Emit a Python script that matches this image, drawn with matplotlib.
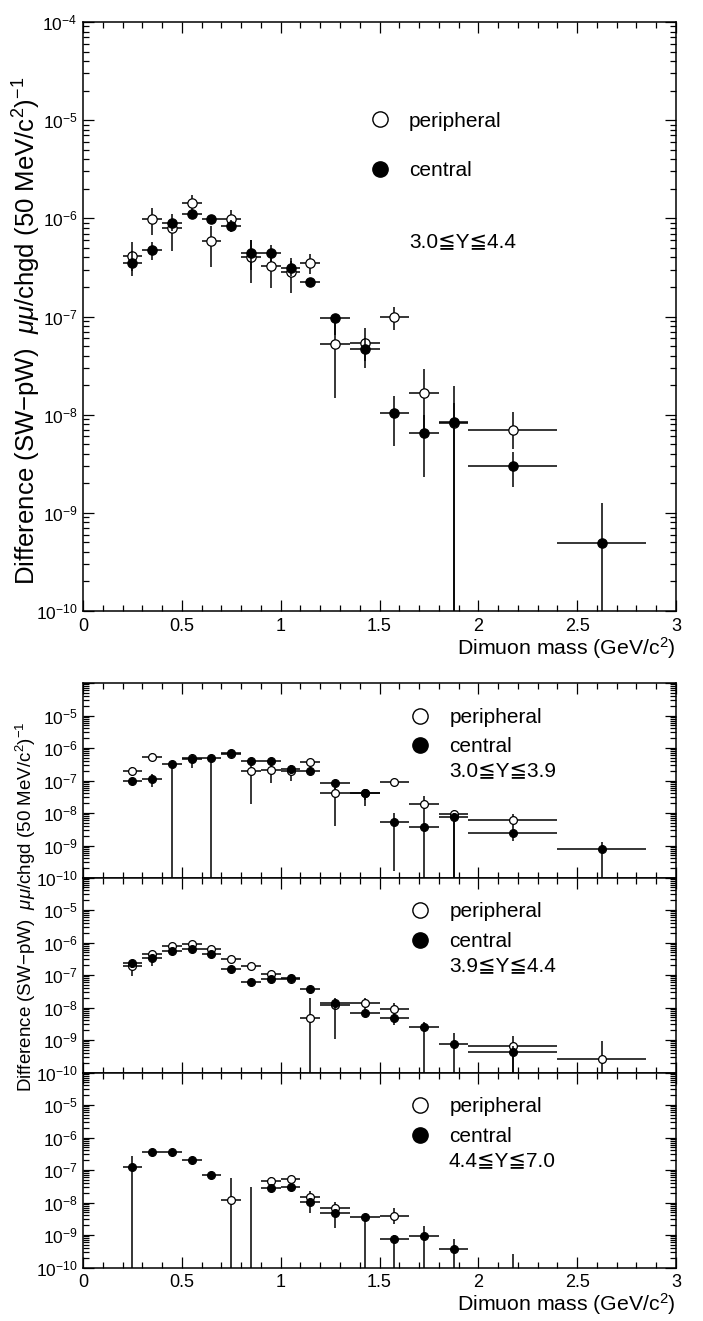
"""Dimuon mass spectra of the SW - pW difference, peripheral vs central, in rapidity windows."""

import numpy as np
import matplotlib

matplotlib.use("Agg")
import matplotlib.pyplot as plt
from matplotlib.lines import Line2D
from matplotlib.ticker import FixedLocator, FuncFormatter, LogLocator, MultipleLocator, NullFormatter

plt.rcParams["font.family"] = ["Liberation Sans", "DejaVu Sans"]
plt.rcParams["mathtext.fontset"] = "custom"
plt.rcParams["mathtext.rm"] = "Liberation Sans"
plt.rcParams["mathtext.it"] = "Liberation Sans:italic"
plt.rcParams["mathtext.default"] = "regular"

nan = np.nan
LOW = 1e-12  # lower error running off the bottom of the axis

mass_edges = [0.2, 0.3, 0.4, 0.5, 0.6, 0.7, 0.8, 0.9, 1.0, 1.1, 1.2,
              1.35, 1.5, 1.65, 1.8, 1.95, 2.4, 2.85]

# --- 3.0 <= Y <= 4.4 (top panel) ---
all_periph = [4.1e-7, 9.8e-7, 7.9e-7, 1.42e-6, 5.9e-7, 9.8e-7, 4.06e-7, 3.3e-7, 2.86e-7,
              3.53e-7, 5.3e-8, 5.4e-8, 9.9e-8, 1.65e-8, 8.3e-9, 7.0e-9, nan]
all_periph_lo = [2.9e-7, 6.8e-7, 4.7e-7, 1.15e-6, 3.2e-7, 8.0e-7, 2.2e-7, 1.94e-7, 1.72e-7,
                 2.7e-7, 1.47e-8, 3.5e-8, 7.3e-8, 6e-9, LOW, 4.5e-9, nan]
all_periph_hi = [5.7e-7, 1.26e-6, 9.5e-7, 1.73e-6, 8.3e-7, 1.22e-6, 6.0e-7, 4.4e-7, 3.9e-7,
                 4.33e-7, 9.0e-8, 7.6e-8, 1.24e-7, 2.9e-8, 1.96e-8, 1.07e-8, nan]
all_central = [3.48e-7, 4.76e-7, 9.0e-7, 1.1e-6, 9.8e-7, 8.4e-7, 4.4e-7, 4.4e-7, 3.15e-7,
               2.23e-7, 9.7e-8, 4.7e-8, 1.03e-8, 6.45e-9, 8.5e-9, 3.0e-9, 4.9e-10]
all_central_lo = [2.59e-7, 3.77e-7, 7.5e-7, 1.0e-6, 9.0e-7, 7.2e-7, 3.0e-7, 3.6e-7, 2.6e-7,
                  2.0e-7, 6.5e-8, 3.0e-8, 4.8e-9, 2.33e-9, LOW, 1.82e-9, LOW]
all_central_hi = [4.6e-7, 5.8e-7, 1.1e-6, 1.2e-6, 1.06e-6, 9.6e-7, 6.0e-7, 5.3e-7, 3.7e-7,
                  2.45e-7, 1.0e-7, 6.0e-8, 1.55e-8, 1.0e-8, 1.3e-8, 4.2e-9, 1.25e-9]

# --- 3.0 <= Y <= 3.9 ---
low_periph = [1.95e-7, 5.3e-7, nan, 5.1e-7, nan, 6.6e-7, 2.0e-7, 2.1e-7, 1.9e-7,
              3.6e-7, 4.1e-8, 4.1e-8, 9.1e-8, 1.9e-8, 9.5e-9, 6.3e-9, nan]
low_periph_lo = [1.4e-7, 4.0e-7, nan, 2.5e-7, nan, 5.0e-7, 1.9e-8, 8.5e-8, 1.0e-7,
                 2.6e-7, 3.9e-9, 2.5e-8, 7.0e-8, 6e-9, LOW, 3.5e-9, nan]
low_periph_hi = [2.6e-7, 7.0e-7, nan, 6.5e-7, nan, 8.7e-7, 3.0e-7, 3.0e-7, 2.8e-7,
                 4.5e-7, 6.0e-8, 5.5e-8, 1.1e-7, 3.3e-8, 1.2e-8, 9e-9, nan]
low_central = [9.8e-8, 1.15e-7, 3.3e-7, 4.5e-7, 5.1e-7, 6.8e-7, 3.9e-7, 3.9e-7, 2.25e-7,
               1.9e-7, 8.3e-8, 4.1e-8, 5.3e-9, 3.8e-9, 7.8e-9, 2.5e-9, 7.7e-10]
low_central_lo = [8.0e-8, 6.1e-8, LOW, 3.5e-7, LOW, 5.5e-7, 3.0e-7, 3.0e-7, 1.6e-7,
                  1.5e-7, 5.5e-8, 1.6e-8, 1.7e-10, LOW, LOW, 1.4e-9, LOW]
low_central_hi = [1.2e-7, 1.6e-7, 4.0e-7, 5.5e-7, 6.0e-7, 8.0e-7, 4.6e-7, 4.6e-7, 3.0e-7,
                  2.4e-7, 1.0e-7, 5.5e-8, 1.0e-8, 6.0e-9, 1.0e-8, 3.5e-9, 1.25e-9]

# --- 3.9 <= Y <= 4.4 ---
mid_periph = [1.95e-7, 4.3e-7, 7.8e-7, 8.8e-7, 6.2e-7, 3.0e-7, 1.96e-7, 1.1e-7, 7.3e-8,
              4.9e-9, 1.16e-8, 1.38e-8, 9.2e-9, nan, nan, 6.4e-10, 2.6e-10]
mid_periph_lo = [9.3e-8, 3.0e-7, 6.3e-7, 7.2e-7, 5.0e-7, 2.4e-7, 1.6e-7, 9e-8, 5.5e-8,
                 LOW, 1.1e-9, 9.5e-9, 6.0e-9, nan, nan, LOW, LOW]
mid_periph_hi = [2.8e-7, 5.6e-7, 9.5e-7, 1.05e-6, 7.5e-7, 3.7e-7, 2.4e-7, 1.35e-7, 9.0e-8,
                 2.0e-8, 1.5e-8, 1.9e-8, 1.35e-8, nan, nan, 1.35e-9, 9.5e-10]
mid_central = [2.3e-7, 3.3e-7, 5.5e-7, 6.2e-7, 4.5e-7, 1.5e-7, 6.3e-8, 7.3e-8, 8.3e-8,
               3.7e-8, 1.38e-8, 6.9e-9, 4.6e-9, 2.5e-9, 7.7e-10, 4.4e-10, nan]
mid_central_lo = [1.6e-7, 1.9e-7, 4.7e-7, 5.3e-7, 3.8e-7, 1.25e-7, 4.5e-8, 6.0e-8, 6.5e-8,
                  3.0e-8, 9.0e-9, 5.0e-9, 2.9e-9, LOW, LOW, LOW, nan]
mid_central_hi = [2.9e-7, 4.0e-7, 6.3e-7, 7.0e-7, 5.2e-7, 1.8e-7, 7.5e-8, 8.8e-8, 1.0e-7,
                  4.6e-8, 1.9e-8, 9.5e-9, 6.5e-9, 3.5e-9, 1.65e-9, 6.5e-10, nan]

# --- 4.4 <= Y <= 7.0 ---
high_periph = [nan, nan, nan, nan, nan, 1.17e-8, nan, 4.5e-8, 5.2e-8,
               1.5e-8, 6.6e-9, nan, 3.9e-9, nan, nan, 1e-11, nan]
high_periph_lo = [nan, nan, nan, nan, nan, LOW, nan, 3.5e-8, 4.2e-8,
                  1.15e-8, 4.5e-9, nan, 2.2e-9, nan, nan, LOW, nan]
high_periph_hi = [nan, nan, nan, nan, nan, 5.5e-8, nan, 6.0e-8, 6.5e-8,
                  2.2e-8, 1.07e-8, nan, 7.0e-9, nan, nan, 2.6e-10, nan]
high_central = [1.2e-7, 3.5e-7, 3.6e-7, 2.1e-7, 6.8e-8, nan, 1e-11, 2.7e-8, 3.0e-8,
                1.05e-8, 4.6e-9, 3.5e-9, 7.8e-10, 9.3e-10, 3.7e-10, nan, nan]
high_central_lo = [LOW, 2.7e-7, 3.1e-7, 1.75e-7, 5.8e-8, nan, LOW, 2.2e-8, 2.5e-8,
                   4.8e-9, 1.7e-9, LOW, LOW, LOW, LOW, nan, nan]
high_central_hi = [2.75e-7, 4.3e-7, 4.2e-7, 2.5e-7, 7.8e-8, nan, 2.9e-8, 3.3e-8, 3.6e-8,
                   1.4e-8, 6.0e-9, 4.0e-9, 1.0e-9, 1.9e-9, 7.5e-10, nan, nan]

W, H = 703, 1321
edges = np.array(mass_edges)
mass = 0.5 * (edges[1:] + edges[:-1])
half = 0.5 * (edges[1:] - edges[:-1])


def draw(ax, y, lo, hi, filled, ms):
    y, lo, hi = np.array(y), np.array(lo), np.array(hi)
    ax.errorbar(mass, y, xerr=half, yerr=[y - lo, hi - y], fmt="o", ms=ms,
                mfc="black" if filled else "white", mec="black", mew=0.9,
                ecolor="black", elinewidth=1.1, capsize=0, zorder=3 if filled else 2)


def style(ax, xlabels, top_label):
    ax.set_yscale("log")
    ax.set_xlim(0, 3)
    ax.set_ylim(1e-10, 1e-4)
    ax.xaxis.set_major_locator(MultipleLocator(0.5))
    ax.xaxis.set_minor_locator(MultipleLocator(0.1))
    ax.yaxis.set_major_locator(FixedLocator([10.0 ** e for e in range(-10, -3)]))
    ax.yaxis.set_minor_locator(LogLocator(base=10, subs=range(2, 10), numticks=20))
    ax.yaxis.set_minor_formatter(NullFormatter())

    def dec(v, pos):
        e = int(round(np.log10(v)))
        if e == -4 and not top_label:
            return ""
        return r"$10^{%d}$" % e

    ax.yaxis.set_major_formatter(FuncFormatter(dec))
    if xlabels:
        ax.xaxis.set_major_formatter(FuncFormatter(lambda v, p: "%g" % v))
    else:
        ax.xaxis.set_major_formatter(NullFormatter())
    ax.tick_params(which="both", direction="in", top=True, right=True, width=0.9)
    ax.tick_params(which="major", length=8)
    ax.tick_params(which="minor", length=4)
    ax.tick_params(axis="y", labelsize=12.5, pad=4)
    ax.tick_params(axis="x", labelsize=13, pad=5)
    for s in ax.spines.values():
        s.set_linewidth(1.1)


def legend(ax, x, y, spacing, ylabel_text, tx, ty):
    handles = [Line2D([], [], ls="none", marker="o", ms=11, mfc="white", mec="black", mew=1.0),
               Line2D([], [], ls="none", marker="o", ms=11, mfc="black", mec="black", mew=1.0)]
    ax.legend(handles, ["peripheral", "central"], loc="center left", bbox_to_anchor=(x, y),
              frameon=False, handlelength=1.0, handletextpad=0.9, labelspacing=spacing,
              borderpad=0, borderaxespad=0, fontsize=15)
    ax.text(tx, ty, ylabel_text, transform=ax.transAxes, fontsize=15, va="center")


fig = plt.figure(figsize=(W / 100, H / 100), dpi=100)
left, width = 83 / W, 593 / W

# top panel
ax = fig.add_axes([left, 1 - 611 / H, width, 589 / H])
draw(ax, all_periph, all_periph_lo, all_periph_hi, False, 6.7)
draw(ax, all_central, all_central_lo, all_central_hi, True, 6.7)
style(ax, True, True)
legend(ax, 0.483, 0.790, 1.45, "3.0≦Y≦4.4", 0.551, 0.6265)

# three rapidity windows
panel_tops = [683, 877.5, 1072.5]
panels = [
    (low_periph, low_periph_lo, low_periph_hi, low_central, low_central_lo, low_central_hi, "3.0≦Y≦3.9"),
    (mid_periph, mid_periph_lo, mid_periph_hi, mid_central, mid_central_lo, mid_central_hi, "3.9≦Y≦4.4"),
    (high_periph, high_periph_lo, high_periph_hi, high_central, high_central_lo, high_central_hi, "4.4≦Y≦7.0"),
]
for i, (top, p) in enumerate(zip(panel_tops, panels)):
    ax = fig.add_axes([left, 1 - (top + 195) / H, width, 195 / H])
    draw(ax, p[0], p[1], p[2], False, 5.6)
    draw(ax, p[3], p[4], p[5], True, 5.6)
    style(ax, i == 2, False)
    legend(ax, 0.551, 0.748, 0.5, p[6], 0.617, 0.548)

ylab = r"Difference (SW$-$pW)  $\mathit{\mu\mu}$/chgd (50 MeV/c$^2$)$^{-1}$"
fig.text(27 / W, 1 - 331 / H, ylab, rotation=90, ha="center", va="center", fontsize=18.5)
fig.text(26 / W, 1 - 907 / H, ylab, rotation=90, ha="center", va="center", fontsize=13.5)
fig.text(676 / W, 1 - 648 / H, "Dimuon mass (GeV/c$^2$)", ha="right", va="center", fontsize=15.3)
fig.text(676 / W, 1 - 1304 / H, "Dimuon mass (GeV/c$^2$)", ha="right", va="center", fontsize=15.3)

fig.savefig("out.png", dpi=100)
